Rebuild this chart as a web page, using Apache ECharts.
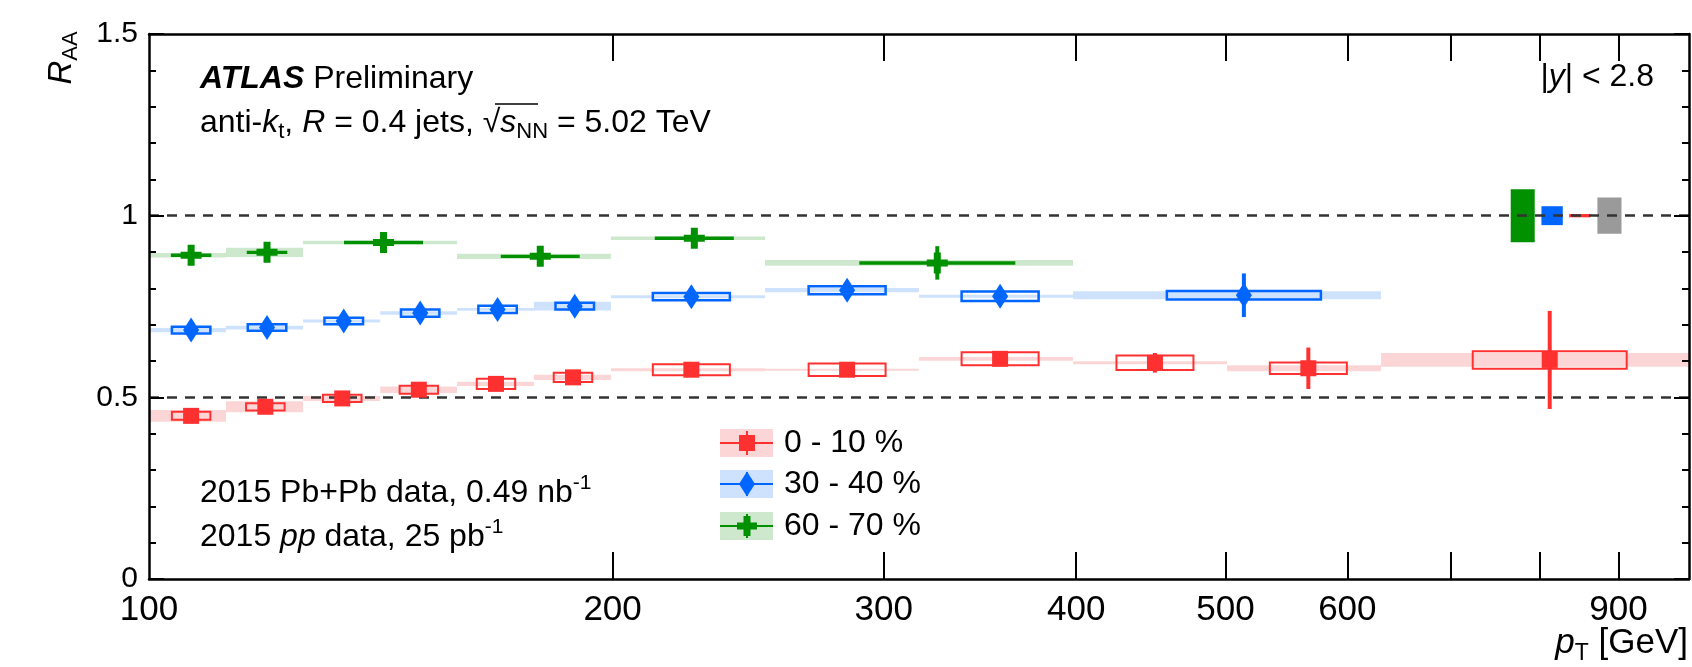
<!DOCTYPE html>
<html>
<head>
<meta charset="utf-8">
<title>ATLAS jet R_AA vs pT</title>
<script src="https://cdn.jsdelivr.net/npm/echarts@6.0.0/dist/echarts.min.js"></script>
<style>
  html, body { margin: 0; padding: 0; background: #fff; }
  #chart { width: 1692px; height: 667px; }
</style>
</head>
<body>
<div id="chart"></div>
<script>
// ---- data ----
// 0 - 10 %
const redLo   = [100, 112.2, 125.9, 141.3, 158.5, 177.8, 199.5, 251.2, 316.2, 398.1, 501.2, 631.0];
const redHi   = [112.2, 125.9, 141.3, 158.5, 177.8, 199.5, 251.2, 316.2, 398.1, 501.2, 631.0, 1000];
const redPt   = [106.5, 119, 133.5, 149.7, 168, 188.5, 225, 284, 357, 450, 566, 812];
const redVal  = [0.449, 0.474, 0.497, 0.521, 0.537, 0.555, 0.576, 0.576, 0.606, 0.595, 0.580, 0.603];
const redStat = [0.006, 0.006, 0.006, 0.007, 0.008, 0.009, 0.010, 0.012, 0.015, 0.027, 0.057, 0.135];
const redUnc  = [0.011, 0.010, 0.010, 0.011, 0.014, 0.013, 0.015, 0.017, 0.018, 0.020, 0.016, 0.024];
const redCor  = [0.016, 0.015, 0.007, 0.009, 0.006, 0.007, 0.004, 0.003, 0.005, 0.004, 0.008, 0.019];
// 30 - 40 %
const blueLo   = [100, 112.2, 125.9, 141.3, 158.5, 177.8, 199.5, 251.2, 316.2, 398.1];
const blueHi   = [112.2, 125.9, 141.3, 158.5, 177.8, 199.5, 251.2, 316.2, 398.1, 631.0];
const bluePt   = [106.5, 119.3, 133.8, 150, 168.4, 189, 225, 284, 357, 514];
const blueVal  = [0.685, 0.692, 0.710, 0.732, 0.742, 0.751, 0.777, 0.795, 0.778, 0.781];
const blueStat = [0.005, 0.005, 0.006, 0.006, 0.007, 0.008, 0.009, 0.011, 0.015, 0.060];
const blueUnc  = [0.009, 0.009, 0.009, 0.010, 0.010, 0.009, 0.010, 0.011, 0.013, 0.012];
const blueCor  = [0.006, 0.005, 0.004, 0.005, 0.004, 0.012, 0.004, 0.006, 0.004, 0.011];
// 60 - 70 %
const greenLo   = [100, 112.2, 125.9, 158.5, 199.5, 251.2];
const greenHi   = [112.2, 125.9, 158.5, 199.5, 251.2, 398.1];
const greenPt   = [106.5, 119.3, 142, 179.5, 226, 325];
const greenVal  = [0.891, 0.899, 0.926, 0.888, 0.938, 0.870];
const greenStat = [0.010, 0.010, 0.012, 0.013, 0.015, 0.046];
const greenUnc  = [0.002, 0.002, 0.002, 0.002, 0.002, 0.002];
const greenCor  = [0.006, 0.013, 0.005, 0.007, 0.005, 0.008];
// global uncertainties drawn at R_AA = 1 (60-70, 30-40, 0-10, lumi)
const globLo  = [766, 802, 836, 872];
const globHi  = [794, 828, 863, 904];
const globErr = [0.073, 0.026, 0.0045, 0.05];

const refLines = [1, 0.5];
const xTicks  = [200, 300, 400, 500, 600, 700, 800, 900];
const xLabels = [100, 200, 300, 400, 500, 600, 900];
const legendNames = ['0 - 10 %', '30 - 40 %', '60 - 70 %'];

// ---- styles ----
const FONT = 'Liberation Sans';
const RED = '#fe3030', RED_L = '#fcd6d6';
const BLUE = '#0066ff', BLUE_L = '#cfe2fd';
const GREEN = '#009000', GREEN_L = '#cde8cd';
const GRAY = '#9a9a9a';
const globColors = [GREEN, BLUE, RED, GRAY];
const CROSS = 'path://M3,0H6V3H9V6H6V9H3V6H0V3H3Z';

function rows(lo, hi, pt, val, stat, unc, cor) {
  return pt.map((p, i) => [lo[i], hi[i], p, val[i], stat[i], unc[i], cor[i]]);
}

function bandRender(fill) {
  return function (params, api) {
    const a = api.coord([api.value(0), api.value(3) + api.value(6)]);
    const b = api.coord([api.value(1), api.value(3) - api.value(6)]);
    return { type: 'rect', shape: { x: a[0], y: a[1], width: b[0] - a[0], height: b[1] - a[1] }, style: { fill: fill } };
  };
}
function boxRender(stroke, fill, lw) {
  return function (params, api) {
    const x0 = api.coord([api.value(0), 0])[0];
    const x1 = api.coord([api.value(1), 0])[0];
    const c = api.coord([api.value(2), api.value(3) + api.value(5)]);
    const d = api.coord([api.value(2), api.value(3) - api.value(5)]);
    const hw = (x1 - x0) / 4;
    return { type: 'rect', shape: { x: c[0] - hw, y: c[1], width: 2 * hw, height: d[1] - c[1] }, style: { fill: fill, stroke: stroke, lineWidth: lw } };
  };
}
function statRender(color, lw) {
  return function (params, api) {
    const a = api.coord([api.value(2), api.value(3) + api.value(4)]);
    const b = api.coord([api.value(2), api.value(3) - api.value(4)]);
    return { type: 'line', shape: { x1: a[0], y1: a[1], x2: b[0], y2: b[1] }, style: { stroke: color, lineWidth: lw } };
  };
}

function groupSeries(data, color, light, boxFill, boxLw, symbol, size) {
  const enc = { x: [0, 1, 2], y: 3 };
  return [
    { type: 'custom', z: 2, data: data, encode: enc, renderItem: bandRender(light), silent: true },
    { type: 'custom', z: 4, data: data, encode: enc, renderItem: boxRender(color, boxFill, boxLw), silent: true },
    { type: 'custom', z: 5, data: data, encode: enc, renderItem: statRender(color, 4), silent: true },
    { type: 'scatter', z: 6, data: data.map(r => [r[2], r[3]]), symbol: symbol, symbolSize: size,
      itemStyle: { color: color, opacity: 1 }, silent: true }
  ];
}

const redRows = rows(redLo, redHi, redPt, redVal, redStat, redUnc, redCor);
const blueRows = rows(blueLo, blueHi, bluePt, blueVal, blueStat, blueUnc, blueCor);
const greenRows = rows(greenLo, greenHi, greenPt, greenVal, greenStat, greenUnc, greenCor);

const FS = 32;
const rich = {
  n: { fontFamily: FONT, fontSize: FS, lineHeight: 40, color: '#000' },
  i: { fontFamily: FONT, fontSize: FS, lineHeight: 40, fontStyle: 'italic', color: '#000' },
  a: { fontFamily: FONT, fontSize: FS, lineHeight: 40, fontStyle: 'italic', fontWeight: 'bold', color: '#000' },
  s: { fontFamily: FONT, fontSize: 22, lineHeight: 22, verticalAlign: 'bottom', color: '#000' },
  p: { fontFamily: FONT, fontSize: 21, lineHeight: 21, verticalAlign: 'top', color: '#000' }
};
function label(x, y, text, align) {
  return { type: 'text', x: x, y: y, z: 20, silent: true,
    style: { text: text, rich: rich, align: align || 'left', verticalAlign: 'middle' } };
}

// legend drawn by hand (ROOT style: band + line + marker)
const legendColors = [[RED, RED_L], [BLUE, BLUE_L], [GREEN, GREEN_L]];
const legendY = [443, 484, 526];
const legendGraphic = [];
legendNames.forEach((name, i) => {
  const cy = legendY[i], cx = 747, col = legendColors[i][0];
  legendGraphic.push({ type: 'rect', z: 20, shape: { x: 720, y: cy - 14, width: 53, height: 28 }, style: { fill: legendColors[i][1] } });
  legendGraphic.push({ type: 'line', z: 21, shape: { x1: 720, y1: cy, x2: 773, y2: cy }, style: { stroke: col, lineWidth: 2 } });
  legendGraphic.push({ type: 'line', z: 21, shape: { x1: cx, y1: cy - 12, x2: cx, y2: cy + 12 }, style: { stroke: col, lineWidth: 2 } });
  if (i === 0) {
    legendGraphic.push({ type: 'rect', z: 22, shape: { x: cx - 8, y: cy - 8, width: 16, height: 16 }, style: { fill: col } });
  } else if (i === 1) {
    legendGraphic.push({ type: 'polygon', z: 22, shape: { points: [[cx, cy - 12.5], [cx + 8, cy], [cx, cy + 12.5], [cx - 8, cy]] }, style: { fill: col } });
  } else {
    legendGraphic.push({ type: 'polygon', z: 22, shape: { points: [[cx - 3.5, cy - 10], [cx + 3.5, cy - 10], [cx + 3.5, cy - 3.5], [cx + 10, cy - 3.5], [cx + 10, cy + 3.5], [cx + 3.5, cy + 3.5], [cx + 3.5, cy + 10], [cx - 3.5, cy + 10], [cx - 3.5, cy + 3.5], [cx - 10, cy + 3.5], [cx - 10, cy - 3.5], [cx - 3.5, cy - 3.5]] }, style: { fill: col } });
  }
  legendGraphic.push(label(784, cy, '{n|' + name + '}'));
});

const axisLineStyle = { show: true, onZero: false, lineStyle: { color: '#000', width: 2.5 } };
const tickStyle = { color: '#000', width: 2 };

const myChart = echarts.init(document.getElementById('chart'), null, { renderer: 'canvas' });
myChart.setOption({
  animation: false,
  backgroundColor: '#fff',
  grid: { left: 149, right: 3, top: 34, bottom: 88, outerBoundsMode: 'none' },
  xAxis: [
    { type: 'log', logBase: 10, min: 100, max: 1000, position: 'bottom', z: 10,
      axisLine: axisLineStyle,
      axisTick: { show: true, inside: true, length: 27, customValues: xTicks, lineStyle: tickStyle },
      axisLabel: { show: true, customValues: xLabels, margin: 14, color: '#000', fontFamily: FONT, fontSize: 35 },
      splitLine: { show: false }, minorTick: { show: false } },
    { type: 'log', logBase: 10, min: 100, max: 1000, position: 'top', z: 10,
      axisLine: axisLineStyle,
      axisTick: { show: true, inside: true, length: 27, customValues: xTicks, lineStyle: tickStyle },
      axisLabel: { show: false },
      splitLine: { show: false }, minorTick: { show: false } }
  ],
  yAxis: [
    { type: 'value', min: 0, max: 1.5, interval: 0.5, position: 'left', z: 10,
      axisLine: axisLineStyle,
      axisTick: { show: true, inside: true, length: 15, lineStyle: tickStyle },
      minorTick: { show: true, splitNumber: 5, length: 7, lineStyle: tickStyle },
      axisLabel: { margin: 11, color: '#000', fontFamily: FONT, fontSize: 30 },
      splitLine: { show: false } },
    { type: 'value', min: 0, max: 1.5, interval: 0.5, position: 'right', z: 10,
      axisLine: axisLineStyle,
      axisTick: { show: true, inside: true, length: 15, lineStyle: tickStyle },
      minorTick: { show: true, splitNumber: 5, length: 7, lineStyle: tickStyle },
      axisLabel: { show: false }, splitLine: { show: false } }
  ],
  series: [
    { type: 'custom', z: 1, silent: true,
      data: globLo.map((lo, i) => [lo, globHi[i], globErr[i]]),
      encode: { x: [0, 1], y: 2 },
      renderItem: function (params, api) {
        const a = api.coord([api.value(0), 1 + api.value(2)]);
        const b = api.coord([api.value(1), 1 - api.value(2)]);
        return { type: 'rect', shape: { x: a[0], y: a[1], width: b[0] - a[0], height: b[1] - a[1] }, style: { fill: globColors[params.dataIndex] } };
      },
      markLine: { silent: true, symbol: 'none', z: 3, label: { show: false },
        lineStyle: { color: '#333', width: 2.5, type: [10, 8] },
        data: refLines.map(v => ({ yAxis: v })) } }
  ].concat(
    groupSeries(redRows, RED, RED_L, 'none', 2, 'rect', 16),
    groupSeries(blueRows, BLUE, BLUE_L, 'none', 2.5, 'diamond', [16, 25]),
    groupSeries(greenRows, GREEN, GREEN_L, GREEN, 2, CROSS, 21)
  ),
  graphic: [
    label(200, 79, '{a|ATLAS}{n| Preliminary}'),
    label(200, 123, '{n|anti-}{i|k}{s|t}{n|, }{i|R}{n| = 0.4 jets, √}{i|s}{s|NN}{n| = 5.02 TeV}'),
    { type: 'line', z: 20, silent: true, shape: { x1: 495, y1: 104, x2: 538, y2: 104 }, style: { stroke: '#000', lineWidth: 1.5 } },
    label(1654, 77, '{n||}{i|y}{n|| < 2.8}', 'right'),
    label(200, 493, '{n|2015 Pb+Pb data, 0.49 nb}{p|-1}'),
    label(200, 537, '{n|2015 }{i|pp}{n| data, 25 pb}{p|-1}'),
    { type: 'text', x: 62, y: 58, rotation: Math.PI / 2, z: 20, silent: true,
      style: { text: '{i|R}{s|AA}', align: 'center', verticalAlign: 'middle',
        rich: { i: { fontFamily: FONT, fontSize: 33, lineHeight: 40, fontStyle: 'italic', color: '#000' },
                s: { fontFamily: FONT, fontSize: 22, lineHeight: 22, verticalAlign: 'bottom', color: '#000' } } } },
    { type: 'text', x: 1688, y: 643, z: 20, silent: true,
      style: { text: '{i|p}{s|T}{n| [GeV]}', align: 'right', verticalAlign: 'middle',
        rich: { i: { fontFamily: FONT, fontSize: 35, lineHeight: 44, fontStyle: 'italic', color: '#000' },
                s: { fontFamily: FONT, fontSize: 23, lineHeight: 23, verticalAlign: 'bottom', color: '#000' },
                n: { fontFamily: FONT, fontSize: 35, lineHeight: 44, color: '#000' } } } }
  ].concat(legendGraphic)
});
</script>
</body>
</html>
